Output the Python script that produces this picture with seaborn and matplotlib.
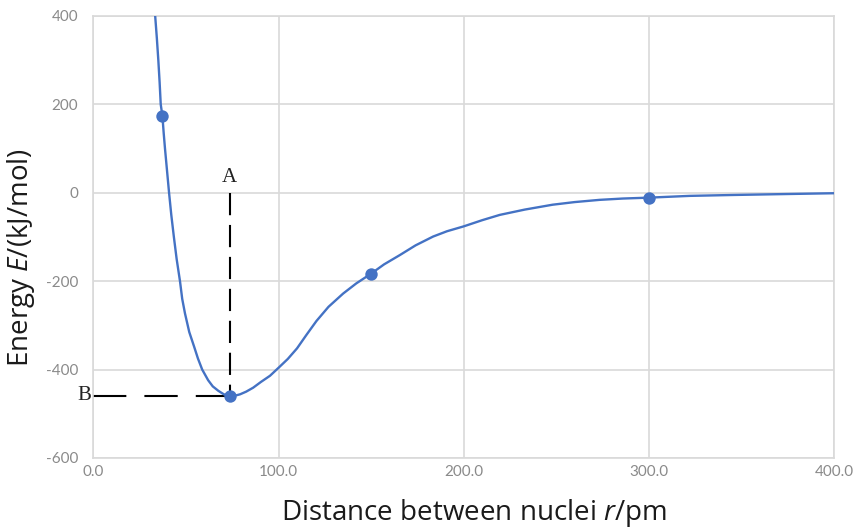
import numpy as np
import pandas as pd
import seaborn as sns
import matplotlib
matplotlib.use('Agg')
import matplotlib.pyplot as plt

# curve: distance r (pm) and energy E (kJ/mol)
curve_r = [33.4, 34.3, 35.1, 35.8, 36.4, 37.3, 38.0, 38.7, 39.8, 40.9,
           42.1, 43.5, 45.0, 46.8, 48.0, 49.5, 51.8, 54.5, 56.5, 58.8,
           62.0, 64.5, 67.5, 70.5, 73.6, 76.5, 79.2, 82.5, 86.3, 90.5,
           95.4, 100.0, 105.0, 110.0, 115.0, 120.5, 127.0, 134.9, 142.0,
           150.0, 157.0, 165.5, 174.0, 183.5, 191.0, 200.0, 210.0, 219.5,
           233.0, 248.0, 260.0, 273.4, 286.0, 300.0, 322.0, 345.0, 372.0,
           400.0]
curve_e = [400, 350, 300, 250, 200, 174, 135, 100, 50, 0,
           -50, -100, -150, -200, -240, -273, -315, -349, -375, -400,
           -424, -438, -448, -456, -459, -459, -456, -450, -441, -428,
           -414, -396, -376, -352, -322, -290, -258, -228, -205,
           -183, -162, -141, -119, -99, -87, -76, -62, -50,
           -38, -27, -21, -16, -13, -11, -7, -5, -3,
           -1]

# marked points
pts_r = [37.3, 73.6, 150.0, 300.0]
pts_e = [174, -459, -183, -11]

# bond length / bond energy guides
bond_r = 73.6
bond_e = -459

x_ticks = [0, 100, 200, 300, 400]
y_ticks = [-600, -400, -200, 0, 200, 400]

sns.set_theme(style='white')
plt.rcParams['font.family'] = ['Open Sans', 'DejaVu Sans']
plt.rcParams['mathtext.fontset'] = 'custom'
plt.rcParams['mathtext.rm'] = 'Open Sans'
plt.rcParams['mathtext.it'] = 'Open Sans:italic'
plt.rcParams['lines.scale_dashes'] = False

blue = '#4472C4'
grid_c = '#D9D9D9'

fig = plt.figure(figsize=(8.57, 5.31), dpi=100)
ax = fig.add_axes([0.1089, 0.1375, 0.8643, 0.8324])

df_curve = pd.DataFrame({'r': curve_r, 'E': curve_e})
df_pts = pd.DataFrame({'r': pts_r, 'E': pts_e})

sns.lineplot(data=df_curve, x='r', y='E', color=blue, linewidth=1.7,
             estimator=None, sort=False, ax=ax, zorder=3)
sns.scatterplot(data=df_pts, x='r', y='E', color=blue, s=80,
                edgecolor=blue, linewidth=0, ax=ax, zorder=4)

# dashed guides
ax.plot([bond_r, bond_r], [0, bond_e], color='black', lw=1.5,
        dashes=(16, 7), zorder=2)
ax.plot([0, bond_r], [bond_e, bond_e], color='black', lw=1.5,
        dashes=(24, 13), zorder=2)
ax.text(bond_r, 12, 'A', ha='center', va='bottom', fontsize=15,
        family='Liberation Serif', color='#222222')
ax.text(-1, bond_e, 'B', ha='right', va='center', fontsize=15,
        family='Liberation Serif', color='#222222', clip_on=False)

ax.set_xlim(0, 400)
ax.set_ylim(-600, 400)
ax.set_xticks(x_ticks)
ax.set_yticks(y_ticks)
ax.set_xticklabels([f'{t:.1f}' for t in x_ticks])
ax.set_yticklabels([str(t) for t in y_ticks])
ax.tick_params(axis='both', length=0, labelsize=11, labelcolor='#8A8A8A')
ax.tick_params(axis='x', pad=5)
ax.tick_params(axis='y', pad=11)
for lab in ax.get_xticklabels() + ax.get_yticklabels():
    lab.set_family('Lato')

ax.grid(True, color=grid_c, linewidth=1.2)
for sp in ax.spines.values():
    sp.set_color(grid_c)
    sp.set_linewidth(1.2)

ax.set_xlabel('Distance between nuclei $\\mathit{r}$/pm', fontsize=20,
              color='#1a1a1a')
ax.set_ylabel('Energy $\\mathit{E}$/(kJ/mol)', fontsize=20,
              color='#1a1a1a')
ax.xaxis.set_label_coords(0.514, -0.088)
ax.yaxis.set_label_coords(-0.076, 0.454)

fig.savefig('out.png', dpi=100)
